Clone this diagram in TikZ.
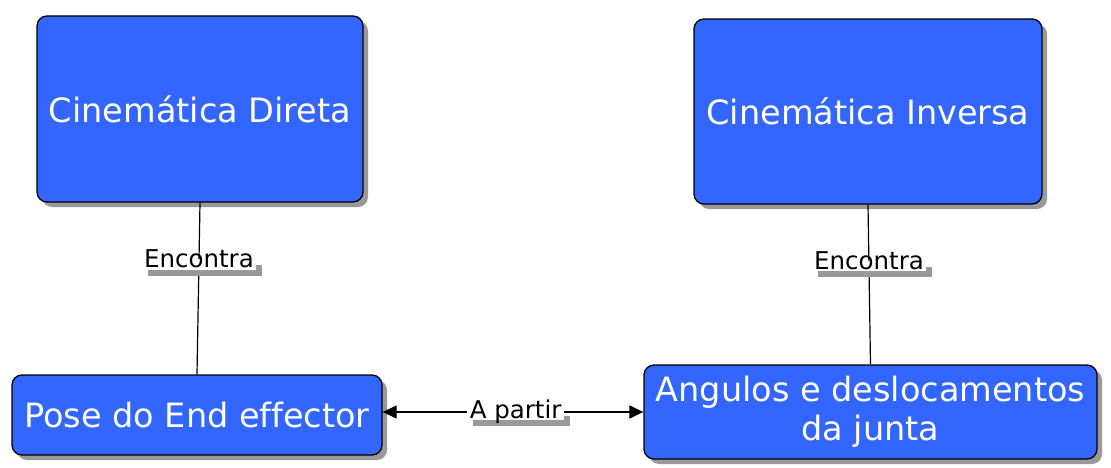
\documentclass[tikz,border=0pt]{standalone}
\usepackage{fontspec}
\setmainfont{DejaVu Sans}[Ligatures=NoCommon]
\usetikzlibrary{shadows,arrows.meta}
\definecolor{boxblue}{HTML}{3366FF}
\definecolor{shadowgray}{HTML}{999999}
\tikzset{
  concept/.style={draw=black, line width=1.3pt, fill=boxblue, rounded corners=10pt,
    text=white, font=\fontsize{33.5}{39}\selectfont, align=center, inner sep=0pt,
    drop shadow={shadow xshift=5pt, shadow yshift=-5pt, fill=shadowgray, opacity=1}},
  linklabel/.style={fill=white, font=\fontsize{24.5}{28}\selectfont, inner xsep=2.5pt, inner ysep=1pt,
    text height=0.76em, text depth=0.1em,
    drop shadow={shadow xshift=6pt, shadow yshift=-6pt, fill=shadowgray, opacity=1}},
  link/.style={draw=black, line width=1.2pt},
}
\begin{document}
\begin{tikzpicture}[x=1pt,y=-1pt]
\useasboundingbox (0,0) rectangle (1111,468);
\node[concept, minimum width=326pt, minimum height=186pt] (cd) at (200,109) {Cinemática Direta};
\node[concept, minimum width=348pt, minimum height=185pt] (ci) at (868,111.5) {Cinemática Inversa};
\node[concept, minimum width=370pt, minimum height=80pt] (pe) at (197,415) {Pose do End effector};
\node[concept, minimum width=453pt, minimum height=94pt] (aj) at (870.5,412) {Angulos e deslocamentos\\da junta};
\draw[link] (cd.south) -- node[linklabel, pos=0.36] (l1) {Encontra} (pe.north);
\draw[link] (ci.south) -- node[linklabel, pos=0.385] (l2) {Encontra} (aj.north);
\coordinate (pr) at (pe.east |- aj.west);
\draw[link, {Triangle[length=14pt,width=13pt]}-{Triangle[length=14pt,width=13pt]}] (pr) -- node[linklabel, pos=0.51, yshift=-3pt] (l3) {A partir} (aj.west);
\end{tikzpicture}
\end{document}
